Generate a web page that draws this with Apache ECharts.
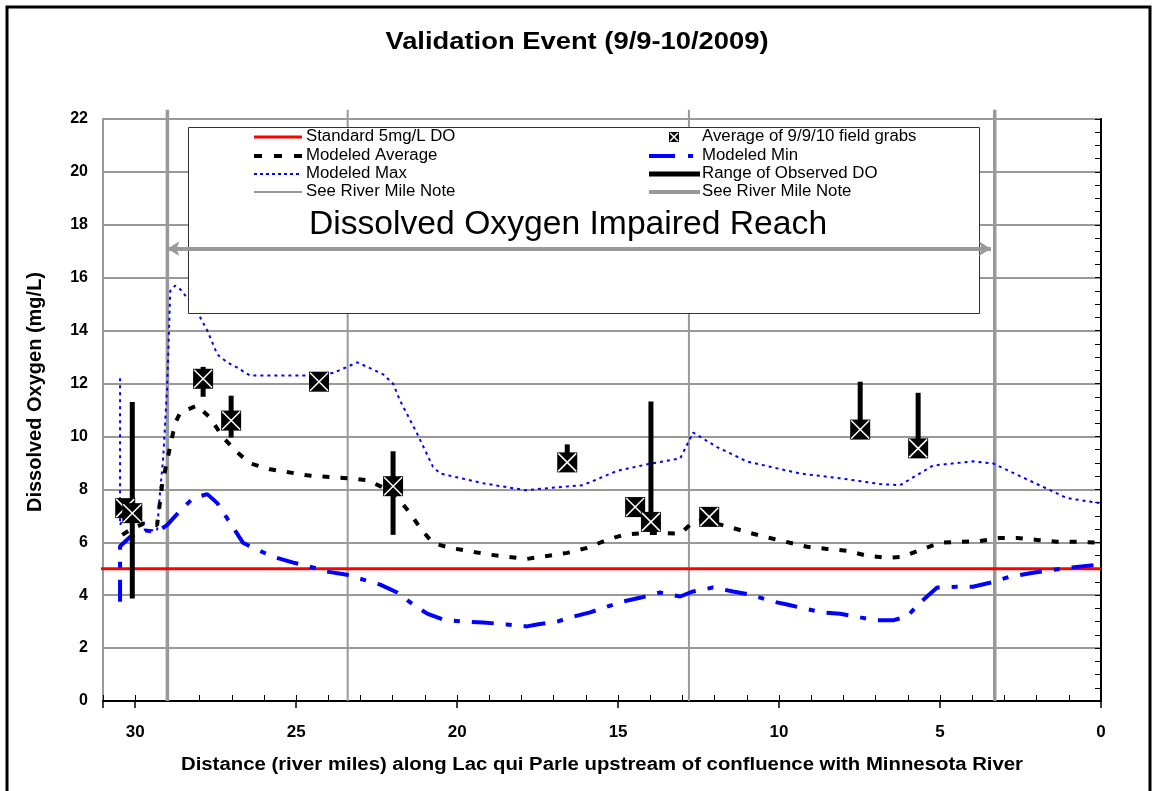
<!DOCTYPE html>
<html>
<head>
<meta charset="utf-8">
<script src="https://cdn.jsdelivr.net/npm/echarts@6/dist/echarts.min.js"></script>
<style>
  html, body { margin: 0; padding: 0; background: #fff; }
  #chart { width: 1154px; height: 791px; }
</style>
</head>
<body>
<div id="chart"></div>
<script>
const FONT = '"Liberation Sans", Arial, Helvetica, sans-serif';

// ---- data: distance in river miles upstream of the confluence, DO in mg/L ----
const modeledMax = [
  [30.47, 12.2], [30.47, 6.65], [30.4, 6.84], [29.75, 6.84], [29.7, 6.45], [29.32, 6.45],
  [29.22, 8.0], [29.13, 9.2], [29.01, 11.8], [28.91, 15.5], [28.76, 15.7], [28.6, 15.56],
  [28.29, 15.1], [27.98, 14.5], [27.76, 14.0], [27.45, 13.1], [27.14, 12.8], [26.83, 12.6],
  [26.43, 12.3], [24.66, 12.3], [23.85, 12.4], [23.1, 12.8], [22.3, 12.35], [21.99, 12.0],
  [21.77, 11.35], [21.24, 10.1], [20.75, 8.85], [20.53, 8.6], [19.19, 8.23], [17.89, 7.97],
  [16.09, 8.16], [15.03, 8.7], [14.01, 8.97], [13.07, 9.17], [12.67, 10.15], [11.93, 9.6],
  [10.99, 9.05], [9.35, 8.6], [8.11, 8.42], [6.86, 8.2], [6.24, 8.16], [5.22, 8.9],
  [3.98, 9.06], [3.35, 8.98], [2.11, 8.27], [1.06, 7.67], [0.03, 7.48]
];
const modeledAvg = [
  [30.4, 6.28], [30.16, 6.47], [29.75, 6.7], [29.32, 6.65], [29.16, 8.2], [28.91, 9.65],
  [28.76, 10.5], [28.6, 10.9], [28.07, 11.17], [27.67, 10.7], [27.27, 9.96], [26.83, 9.4],
  [26.43, 8.98], [25.81, 8.76], [24.66, 8.53], [23.42, 8.42], [22.8, 8.35], [21.99, 7.9],
  [21.46, 7.1], [21.15, 6.54], [20.75, 5.97], [20.22, 5.79], [18.98, 5.53], [17.83, 5.37],
  [16.58, 5.6], [15.96, 5.79], [15.34, 6.09], [14.84, 6.28], [14.22, 6.35], [13.6, 6.35],
  [13.07, 6.32], [12.67, 6.77], [12.36, 6.84], [11.43, 6.54], [10.9, 6.35], [10.28, 6.16],
  [9.66, 5.98], [9.13, 5.83], [8.51, 5.75], [7.89, 5.68], [7.27, 5.49], [6.65, 5.41],
  [6.15, 5.45], [5.62, 5.71], [5.0, 5.98], [4.38, 6.02], [3.76, 6.05], [3.14, 6.16],
  [2.61, 6.16], [1.99, 6.09], [1.37, 6.02], [0.75, 6.02], [0.0, 5.98]
];
const modeledMin = [
  [30.47, 3.75], [30.47, 5.85], [30.16, 6.2], [29.75, 6.45], [29.32, 6.4], [29.01, 6.65],
  [28.6, 7.2], [28.2, 7.67], [27.76, 7.82], [27.45, 7.48], [27.05, 6.73], [26.65, 5.98],
  [26.34, 5.79], [25.71, 5.45], [25.09, 5.23], [24.66, 5.11], [24.04, 4.89], [23.42, 4.77],
  [22.92, 4.59], [22.39, 4.4], [21.86, 4.1], [21.37, 3.65], [20.93, 3.3], [20.43, 3.08],
  [19.81, 3.0], [19.19, 2.97], [18.45, 2.89], [17.83, 2.82], [17.52, 2.89], [16.89, 3.0],
  [16.49, 3.16], [15.87, 3.35], [15.34, 3.57], [14.84, 3.76], [14.32, 3.9], [13.7, 4.1],
  [13.07, 3.95], [12.67, 4.14], [12.05, 4.29], [11.43, 4.14], [10.9, 4.02], [10.19, 3.76],
  [9.75, 3.65], [9.25, 3.5], [8.63, 3.35], [8.11, 3.3], [7.48, 3.16], [6.96, 3.05],
  [6.46, 3.05], [6.02, 3.2], [5.62, 3.72], [5.09, 4.29], [4.47, 4.32], [3.98, 4.32],
  [3.45, 4.47], [2.83, 4.7], [2.11, 4.85], [1.49, 4.96], [0.75, 5.07], [0.03, 5.15]
];

// field grab averages
const grabMile = [30.31, 30.09, 27.89, 27.02, 24.29, 21.99, 16.58, 14.47, 13.98, 12.17, 7.48, 5.68];
const grabAvg  = [7.29, 7.1, 12.18, 10.6, 12.07, 8.12, 9.02, 7.33, 6.77, 6.96, 10.26, 9.55];

// observed DO ranges
const rangeMile = [30.09, 27.89, 27.02, 21.99, 16.58, 13.98, 7.48, 5.68];
const rangeLow  = [3.87, 11.5, 9.96, 6.28, 8.9, 6.5, 10.0, 9.3];
const rangeHigh = [11.3, 12.63, 11.54, 9.44, 9.7, 11.32, 12.07, 11.65];

const standardDO = 5;                 // mg/L water quality standard
const standardExtent = [31.2, 0];     // river miles spanned by the standard line
const riverMileThin = [23.4, 12.8];
const riverMileThick = [29.0, 3.3];
const riverMileTop = 22.35;
const reachArrow = { from: 29.0, to: 3.42, level: 17.1 };

const xMin = 0, xMax = 31, yMin = 0, yMax = 22;

const titleText = 'Validation Event (9/9-10/2009)';
const xTitle = 'Distance (river miles) along Lac qui Parle upstream of confluence with Minnesota River';
const yTitle = 'Dissolved Oxygen (mg/L)';

// ---- helpers ----
function vLine(mile, width, name) {
  return {
    type: 'line', name: name, data: [[mile, 0], [mile, riverMileTop]],
    clip: false, symbol: 'none', silent: true, z: 2,
    lineStyle: { color: '#999999', width: width, type: 'solid' }
  };
}

function markerItem(cx, cy, h) {
  return [
    { type: 'rect', shape: { x: cx - h, y: cy - h, width: 2 * h, height: 2 * h }, style: { fill: '#000' } },
    { type: 'line', shape: { x1: cx - h + 1, y1: cy - h + 1, x2: cx + h - 1, y2: cy + h - 1 }, style: { stroke: '#fff', lineWidth: 1.5 } },
    { type: 'line', shape: { x1: cx + h - 1, y1: cy - h + 1, x2: cx - h + 1, y2: cy + h - 1 }, style: { stroke: '#fff', lineWidth: 1.5 } }
  ];
}

// ---- legend box (drawn over the plot) ----
const legendRows = [137, 156, 174, 192];
const col1 = { x0: 254, x1: 302, tx: 306 };
const col2 = { x0: 649, x1: 700, tx: 702 };
const legendText = (x, y, t) => ({
  type: 'text', z: 12, x: x, y: y, scaleX: 1.05,
  style: { text: t, fill: '#000', font: '16px ' + FONT, textVerticalAlign: 'middle', textAlign: 'left' }
});
const legendLine = (c, y, stroke, width, dash) => ({
  type: 'line', z: 12,
  shape: { x1: c.x0, y1: y, x2: c.x1, y2: y },
  style: { stroke: stroke, lineWidth: width, lineDash: dash || null }
});

const graphics = [
  { type: 'rect', z: 10, shape: { x: 188.5, y: 127.5, width: 791, height: 186 },
    style: { fill: '#fff', stroke: '#333', lineWidth: 1 } },
  legendLine(col1, legendRows[0], '#ff0000', 3),
  legendText(col1.tx, legendRows[0], 'Standard 5mg/L DO'),
  legendLine(col1, legendRows[1], '#000', 4, [8, 12]),
  legendText(col1.tx, legendRows[1], 'Modeled Average'),
  legendLine(col1, legendRows[2], '#0000ff', 2, [3, 3]),
  legendText(col1.tx, legendRows[2], 'Modeled Max'),
  legendLine(col1, legendRows[3], '#999999', 2),
  legendText(col1.tx, legendRows[3], 'See River Mile Note'),
  { type: 'group', z: 12, children: markerItem(674, legendRows[0], 5).map(e => Object.assign(e, { z: 12 })) },
  legendText(col2.tx, legendRows[0], 'Average of 9/9/10 field grabs'),
  legendLine(col2, legendRows[1], '#0000ff', 4, [26, 13, 5, 30]),
  legendText(col2.tx, legendRows[1], 'Modeled Min'),
  legendLine(col2, legendRows[2], '#000', 5),
  legendText(col2.tx, legendRows[2], 'Range of Observed DO'),
  legendLine(col2, legendRows[3], '#999999', 4),
  legendText(col2.tx, legendRows[3], 'See River Mile Note'),
  { type: 'text', z: 12, x: 568, y: 225, scaleX: 1.02,
    style: { text: 'Dissolved Oxygen Impaired Reach', fill: '#000', font: '33px ' + FONT,
             textAlign: 'center', textVerticalAlign: 'middle' } },
  // chart title and axis titles
  { type: 'text', z: 12, x: 577, y: 42, scaleX: 1.14,
    style: { text: titleText, fill: '#000', font: 'bold 24px ' + FONT,
             textAlign: 'center', textVerticalAlign: 'middle' } },
  { type: 'text', z: 12, x: 602, y: 765, scaleX: 1.13,
    style: { text: xTitle, fill: '#000', font: 'bold 18px ' + FONT,
             textAlign: 'center', textVerticalAlign: 'middle' } },
  { type: 'text', z: 12, x: 35, y: 392, rotation: Math.PI / 2,
    style: { text: yTitle, fill: '#000', font: 'bold 20px ' + FONT,
             textAlign: 'center', textVerticalAlign: 'middle' } },
  // outer frame
  { type: 'rect', z: 30, shape: { x: 7, y: 7, width: 1143, height: 820 },
    style: { fill: 'none', stroke: '#000', lineWidth: 3 } }
];

const chart = echarts.init(document.getElementById('chart'), null, { renderer: 'canvas' });

const option = {
  animation: false,
  backgroundColor: '#fff',
  grid: {
    left: 103, right: 53, top: 119, bottom: 90,
    show: true, borderColor: '#999999', borderWidth: 2, backgroundColor: 'transparent'
  },
  xAxis: [
    {
      type: 'value', min: xMin, max: xMax, interval: 5, inverse: true, position: 'bottom',
      axisLine: { show: true, lineStyle: { color: '#000', width: 2 } },
      axisTick: { show: true, inside: false, length: 7, lineStyle: { color: '#000', width: 1.5 } },
      axisLabel: {
        margin: 23, fontFamily: FONT, fontSize: 17, fontWeight: 'bold', color: '#000',
        formatter: v => (v % 5 === 0 ? String(v) : '')
      },
      splitLine: { show: false }
    },
    {
      type: 'value', min: xMin, max: xMax, interval: 1, inverse: true, position: 'bottom',
      axisLine: { show: false },
      axisTick: { show: true, inside: true, length: 6, lineStyle: { color: '#000', width: 1 } },
      axisLabel: { show: false },
      splitLine: { show: false }
    }
  ],
  yAxis: [
    {
      type: 'value', min: yMin, max: yMax, interval: 2, position: 'left',
      axisLine: { show: false },
      axisTick: { show: false },
      axisLabel: { margin: 15, fontFamily: FONT, fontSize: 16, fontWeight: 'bold', color: '#000' },
      splitLine: { show: true, lineStyle: { color: '#999999', width: 2 } }
    },
    {
      type: 'value', min: yMin, max: yMax, interval: 0.5, position: 'right',
      axisLine: { show: true, lineStyle: { color: '#000', width: 2 } },
      axisTick: { show: true, inside: true, length: 6, lineStyle: { color: '#000', width: 1 } },
      axisLabel: { show: false },
      splitLine: { show: false }
    }
  ],
  graphic: graphics,
  series: [
    vLine(riverMileThin[0], 2, 'See River Mile Note'),
    vLine(riverMileThin[1], 2, 'See River Mile Note'),
    vLine(riverMileThick[0], 3.5, 'See River Mile Note (reach)'),
    vLine(riverMileThick[1], 3.5, 'See River Mile Note (reach)'),
    {
      type: 'line', name: 'Standard 5mg/L DO',
      data: [[standardExtent[0], standardDO], [standardExtent[1], standardDO]],
      clip: false, symbol: 'none', z: 3,
      lineStyle: { color: '#ff0000', width: 3 }
    },
    {
      type: 'line', name: 'Modeled Max', data: modeledMax, symbol: 'none', clip: false, z: 3,
      lineStyle: { color: '#0000ff', width: 2, type: [3, 4] }
    },
    {
      type: 'line', name: 'Modeled Average', data: modeledAvg, symbol: 'none', clip: false, z: 3,
      lineStyle: { color: '#000', width: 4, type: [7, 11] }
    },
    {
      type: 'line', name: 'Modeled Min', data: modeledMin, symbol: 'none', clip: false, z: 3,
      lineStyle: { color: '#0000ff', width: 4, type: [22, 12, 6, 12] }
    },
    {
      type: 'custom', name: 'Range of Observed DO', z: 5,
      data: rangeMile.map((m, i) => [m, rangeLow[i], rangeHigh[i]]),
      encode: { x: 0, y: [1, 2] },
      renderItem: (params, api) => {
        const lo = api.coord([api.value(0), api.value(1)]);
        const hi = api.coord([api.value(0), api.value(2)]);
        return { type: 'line', shape: { x1: lo[0], y1: lo[1], x2: hi[0], y2: hi[1] },
                 style: { stroke: '#000', lineWidth: 5 } };
      }
    },
    {
      type: 'custom', name: 'Average of 9/9/10 field grabs', z: 6,
      data: grabMile.map((m, i) => [m, grabAvg[i]]),
      encode: { x: 0, y: 1 },
      renderItem: (params, api) => {
        const p = api.coord([api.value(0), api.value(1)]);
        return { type: 'group', children: markerItem(p[0], p[1], 10) };
      }
    },
    {
      type: 'line', name: 'Dissolved Oxygen Impaired Reach', data: [], z: 20, silent: true,
      markLine: {
        z: 20, silent: true, symbol: ['arrow', 'arrow'], symbolSize: [11, 12],
        label: { show: false },
        lineStyle: { color: '#999999', width: 4, type: 'solid' },
        data: [[{ coord: [reachArrow.from, reachArrow.level] }, { coord: [reachArrow.to, reachArrow.level] }]]
      }
    }
  ]
};

chart.setOption(option);
</script>
</body>
</html>
